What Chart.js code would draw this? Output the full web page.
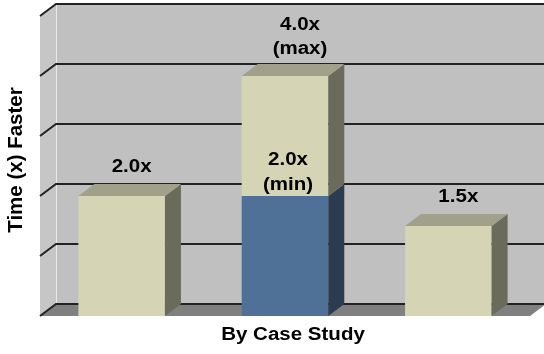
<!DOCTYPE html>
<html>
<head>
<meta charset="utf-8">
<script src="https://cdn.jsdelivr.net/npm/chart.js@4.4.1/dist/chart.umd.min.js"></script>
<style>
  html, body { margin: 0; padding: 0; background: #ffffff; }
  #wrap { width: 544px; height: 354px; position: relative; }
</style>
</head>
<body>
<div id="wrap"><canvas id="chart"></canvas></div>
<script>
// Speed-up per case study: the low end of each range and the extra gain up to the high end
const caseStudies = ['Case Study A', 'Case Study B', 'Case Study C'];
const minSpeedup = [2.0, 2.0, 1.5];
const extraToMax = [0, 2.0, 0];
const yTicks = [0, 1, 2, 3, 4, 5];

const xTitle = 'By Case Study';
const yTitle = 'Time (x) Faster';

const TAN = '#d5d5b5';
const BLUE = '#4f7197';
const FONT = '"Liberation Sans", Arial, sans-serif';

// depth of the box: the back wall sits up and to the right of the front plane
const DX = 16, DY = -12;
// horizontal text is set slightly wide
const TEXT_STRETCH = 1.14;

const sideColor = { [TAN]: '#6b6b5b', [BLUE]: '#2b3c50' };
const topColor = { [TAN]: '#a1a18b', [BLUE]: '#3b5572' };

function poly(ctx, pts, fill) {
  ctx.beginPath();
  ctx.moveTo(pts[0][0], pts[0][1]);
  for (let i = 1; i < pts.length; i++) ctx.lineTo(pts[i][0], pts[i][1]);
  ctx.closePath();
  ctx.fillStyle = fill;
  ctx.fill();
}

function wideText(ctx, text, x, y) {
  ctx.save();
  ctx.translate(x, y);
  ctx.scale(TEXT_STRETCH, 1);
  ctx.fillText(text, 0, 0);
  ctx.restore();
}

const boxPlugin = {
  id: 'box3d',
  beforeDatasetsDraw(chart) {
    const ctx = chart.ctx;
    const { left, right, top, bottom } = chart.chartArea;
    const y = chart.scales.y;
    ctx.save();
    // back wall
    poly(ctx, [[left + DX, top + DY], [right + DX, top + DY], [right + DX, bottom + DY], [left + DX, bottom + DY]], '#c0c0c0');
    // side wall
    poly(ctx, [[left, top], [left + DX, top + DY], [left + DX, bottom + DY], [left, bottom]], '#c6c6c6');
    // floor
    poly(ctx, [[left, bottom], [left + DX, bottom + DY], [right + DX, bottom + DY], [right, bottom]], '#808080');
    // wall corner edge
    ctx.strokeStyle = '#e8e8e8';
    ctx.lineWidth = 1;
    ctx.beginPath();
    ctx.moveTo(left + DX + 0.5, top + DY);
    ctx.lineTo(left + DX + 0.5, bottom + DY);
    ctx.stroke();
    // gridlines on the side wall and back wall
    ctx.strokeStyle = '#222222';
    ctx.lineWidth = 2;
    yTicks.forEach(v => {
      const py = Math.round(y.getPixelForValue(v));
      ctx.beginPath();
      ctx.moveTo(left, py);
      ctx.lineTo(left + DX, py + DY);
      ctx.lineTo(right + DX, py + DY);
      ctx.stroke();
    });
    ctx.restore();
  },
  afterDatasetsDraw(chart) {
    const ctx = chart.ctx;
    const n = chart.data.labels.length;
    ctx.save();
    for (let i = 0; i < n; i++) {
      let topEl = null, topColorKey = null;
      chart.data.datasets.forEach((ds, di) => {
        const el = chart.getDatasetMeta(di).data[i];
        if (!el || ds.data[i] === 0) return;
        const col = Array.isArray(ds.backgroundColor) ? ds.backgroundColor[i] : ds.backgroundColor;
        const r = el.x + el.width / 2;
        poly(ctx, [[r, el.y], [r + DX, el.y + DY], [r + DX, el.base + DY], [r, el.base]], sideColor[col]);
        topEl = el; topColorKey = col;
      });
      if (topEl) {
        const l = topEl.x - topEl.width / 2, r = topEl.x + topEl.width / 2, t = topEl.y;
        poly(ctx, [[l, t], [l + DX, t + DY], [r + DX, t + DY], [r, t]], topColor[topColorKey]);
      }
    }

    // value labels
    ctx.fillStyle = '#000000';
    ctx.textAlign = 'center';
    ctx.textBaseline = 'middle';
    ctx.font = 'bold 18px ' + FONT;
    for (let i = 0; i < n; i++) {
      const baseEl = chart.getDatasetMeta(0).data[i];
      const topEl = chart.getDatasetMeta(1).data[i];
      const total = minSpeedup[i] + extraToMax[i];
      const backTop = topEl.y + DY;
      const cx = baseEl.x + DX / 2 + 2;
      if (extraToMax[i] > 0) {
        wideText(ctx, total.toFixed(1) + 'x', cx + 5, backTop - 39);
        wideText(ctx, '(max)', cx + 5, backTop - 15);
        const split = baseEl.y;
        wideText(ctx, minSpeedup[i].toFixed(1) + 'x', baseEl.x + 3, split - 36);
        wideText(ctx, '(min)', baseEl.x + 3, split - 11);
      } else {
        wideText(ctx, total.toFixed(1) + 'x', cx, backTop - 17);
      }
    }
    ctx.restore();
  },
  afterDraw(chart) {
    const ctx = chart.ctx;
    const { left, right, top, bottom } = chart.chartArea;
    ctx.save();
    ctx.fillStyle = '#000000';
    ctx.textAlign = 'center';
    ctx.textBaseline = 'middle';
    ctx.font = 'bold 18px ' + FONT;
    wideText(ctx, xTitle, (left + right + DX) / 2, 335);
    ctx.translate(16, (top + DY + bottom) / 2);
    ctx.rotate(-Math.PI / 2);
    ctx.font = 'bold 20.5px ' + FONT;
    ctx.fillText(yTitle, 0, 0);
    ctx.restore();
  }
};

new Chart(document.getElementById('chart'), {
  type: 'bar',
  data: {
    labels: caseStudies,
    datasets: [
      { label: 'Minimum', data: minSpeedup, backgroundColor: [TAN, BLUE, TAN], borderWidth: 0 },
      { label: 'Maximum', data: extraToMax, backgroundColor: TAN, borderWidth: 0 }
    ]
  },
  options: {
    responsive: true,
    maintainAspectRatio: false,
    devicePixelRatio: 1,
    animation: false,
    layout: { padding: { top: 16, right: 14, left: 0, bottom: 0 } },
    plugins: { legend: { display: false }, tooltip: { enabled: false } },
    datasets: { bar: { barPercentage: 1, categoryPercentage: 0.53 } },
    scales: {
      x: {
        stacked: true,
        grid: { display: false },
        border: { display: false },
        ticks: { display: false },
        afterFit: s => { s.height = 38; }
      },
      y: {
        stacked: true,
        min: 0, max: 5,
        grid: { display: false },
        border: { display: false },
        ticks: { display: false, stepSize: 1 },
        afterFit: s => { s.width = 40; }
      }
    }
  },
  plugins: [boxPlugin]
});
</script>
</body>
</html>
